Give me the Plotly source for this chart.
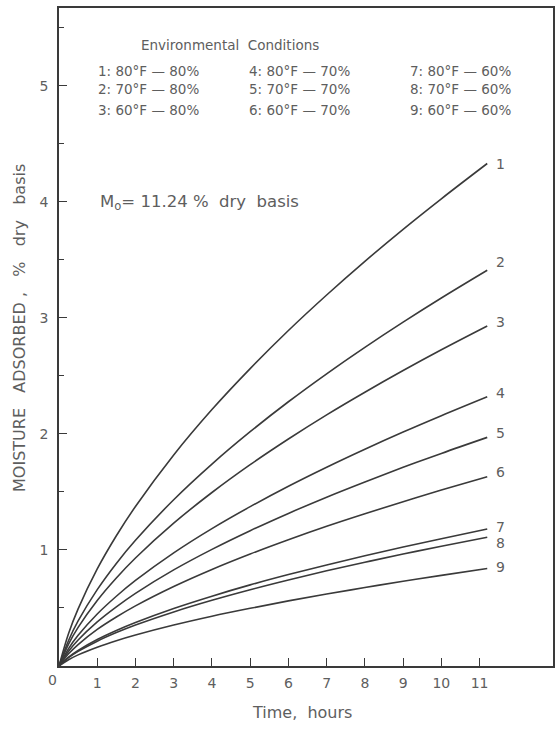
import plotly.graph_objects as go

# Time, hours
hours = [0, 0.25, 0.5, 1, 1.5, 2, 3, 4, 5, 6, 7, 8, 9, 10, 11.2]

# Moisture adsorbed, % dry basis
curve_1 = [0, 0.280, 0.492, 0.836, 1.122, 1.375, 1.819, 2.210, 2.563, 2.891, 3.197, 3.487, 3.763, 4.026, 4.33]
curve_2 = [0, 0.220, 0.388, 0.658, 0.884, 1.083, 1.433, 1.740, 2.019, 2.277, 2.518, 2.746, 2.963, 3.171, 3.41]
curve_3 = [0, 0.189, 0.333, 0.565, 0.759, 0.931, 1.231, 1.495, 1.735, 1.956, 2.164, 2.359, 2.546, 2.725, 2.93]
curve_4 = [0, 0.150, 0.264, 0.448, 0.601, 0.737, 0.975, 1.184, 1.373, 1.549, 1.713, 1.868, 2.016, 2.157, 2.32]
curve_5 = [0, 0.127, 0.224, 0.380, 0.510, 0.626, 0.828, 1.005, 1.166, 1.315, 1.455, 1.586, 1.712, 1.832, 1.97]
curve_6 = [0, 0.105, 0.185, 0.315, 0.422, 0.518, 0.685, 0.832, 0.965, 1.088, 1.204, 1.312, 1.416, 1.516, 1.63]
curve_7 = [0, 0.076, 0.134, 0.228, 0.306, 0.375, 0.496, 0.602, 0.699, 0.788, 0.871, 0.950, 1.025, 1.097, 1.18]
curve_8 = [0, 0.072, 0.126, 0.214, 0.288, 0.353, 0.466, 0.566, 0.657, 0.741, 0.820, 0.894, 0.965, 1.032, 1.11]
curve_9 = [0, 0.054, 0.096, 0.162, 0.218, 0.267, 0.353, 0.429, 0.497, 0.561, 0.620, 0.676, 0.730, 0.781, 0.84]

curves = [curve_1, curve_2, curve_3, curve_4, curve_5, curve_6, curve_7, curve_8, curve_9]
curve_names = ["1", "2", "3", "4", "5", "6", "7", "8", "9"]
label_y = [4.33, 3.48, 2.96, 2.35, 2.01, 1.67, 1.20, 1.06, 0.85]

x_ticks = [1, 2, 3, 4, 5, 6, 7, 8, 9, 10, 11]
y_ticks = [1, 2, 3, 4, 5]
y_minor_ticks = [0.5, 1.5, 2.5, 3.5, 4.5, 5.5]

conditions = [
    ["1: 80°F — 80%", "2: 70°F — 80%", "3: 60°F — 80%"],
    ["4: 80°F — 70%", "5: 70°F — 70%", "6: 60°F — 70%"],
    ["7: 80°F — 60%", "8: 70°F — 60%", "9: 60°F — 60%"],
]

LINE = "#3a3a3a"
TEXT = "#5e5e5e"
FONT = "DejaVu Sans"

fig = go.Figure()
for name, ys in zip(curve_names, curves):
    fig.add_trace(go.Scatter(x=hours, y=ys, mode="lines", name=name,
                             line=dict(color=LINE, width=1.6, shape="spline", smoothing=1.0),
                             showlegend=False, hoverinfo="skip"))

ann = []
for name, yv in zip(curve_names, label_y):
    ann.append(dict(x=11.54, y=yv, xref="x", yref="y", text=name, showarrow=False,
                    xanchor="center", yanchor="middle",
                    font=dict(size=14, color=TEXT, family=FONT)))

ann.append(dict(x=4.48, y=5.35, xref="x", yref="y", text="Environmental  Conditions",
                showarrow=False, xanchor="center", yanchor="middle",
                font=dict(size=13.5, color=TEXT, family=FONT)))
col_x = [0.96, 4.92, 9.14]
row_y = [5.13, 4.97, 4.79]
for cx, col in zip(col_x, conditions):
    for ry, txt in zip(row_y, col):
        ann.append(dict(x=cx, y=ry, xref="x", yref="y", text=txt, showarrow=False,
                        xanchor="left", yanchor="middle",
                        font=dict(size=13.5, color=TEXT, family=FONT)))

ann.append(dict(x=1.02, y=3.99, xref="x", yref="y", text="M<sub>o</sub>= 11.24 %  dry  basis",
                showarrow=False, xanchor="left", yanchor="middle",
                font=dict(size=16.5, color=TEXT, family=FONT)))

ann.append(dict(x=-0.014, y=-0.0213, xref="paper", yref="paper", text="0", showarrow=False,
                xanchor="center", yanchor="middle",
                font=dict(size=14, color=TEXT, family=FONT)))
ann.append(dict(x=0.492, y=-0.0714, xref="paper", yref="paper", text="Time,  hours",
                showarrow=False, xanchor="center", yanchor="middle",
                font=dict(size=16, color=TEXT, family=FONT)))
ann.append(dict(x=-0.0786, y=0.514, xref="paper", yref="paper",
                text="MOISTURE   ADSORBED ,   %   dry   basis", textangle=-90,
                showarrow=False, xanchor="center", yanchor="middle",
                font=dict(size=16, color=TEXT, family=FONT)))

fig.update_layout(
    width=557, height=729,
    margin=dict(l=59, r=2, t=8, b=63),
    paper_bgcolor="white", plot_bgcolor="white",
    annotations=ann,
    font=dict(family=FONT, color=TEXT),
)
fig.update_xaxes(range=[0, 12.92], tickmode="array", tickvals=x_ticks,
                 ticks="inside", ticklen=8, tickcolor=LINE, tickwidth=1.2,
                 showline=True, linecolor=LINE, linewidth=1.5, mirror=True,
                 showgrid=False, zeroline=False, ticklabelstandoff=3,
                 tickfont=dict(size=14, color=TEXT, family=FONT))
fig.update_yaxes(range=[0, 5.67], tickmode="array", tickvals=y_ticks,
                 ticks="inside", ticklen=8, tickcolor=LINE, tickwidth=1.2,
                 minor=dict(tickmode="array", tickvals=y_minor_ticks,
                            ticks="inside", ticklen=5, tickcolor=LINE, tickwidth=1),
                 showline=True, linecolor=LINE, linewidth=1.5, mirror=True,
                 showgrid=False, zeroline=False, ticklabelstandoff=6,
                 tickfont=dict(size=14, color=TEXT, family=FONT))

fig.write_html("out.html")
